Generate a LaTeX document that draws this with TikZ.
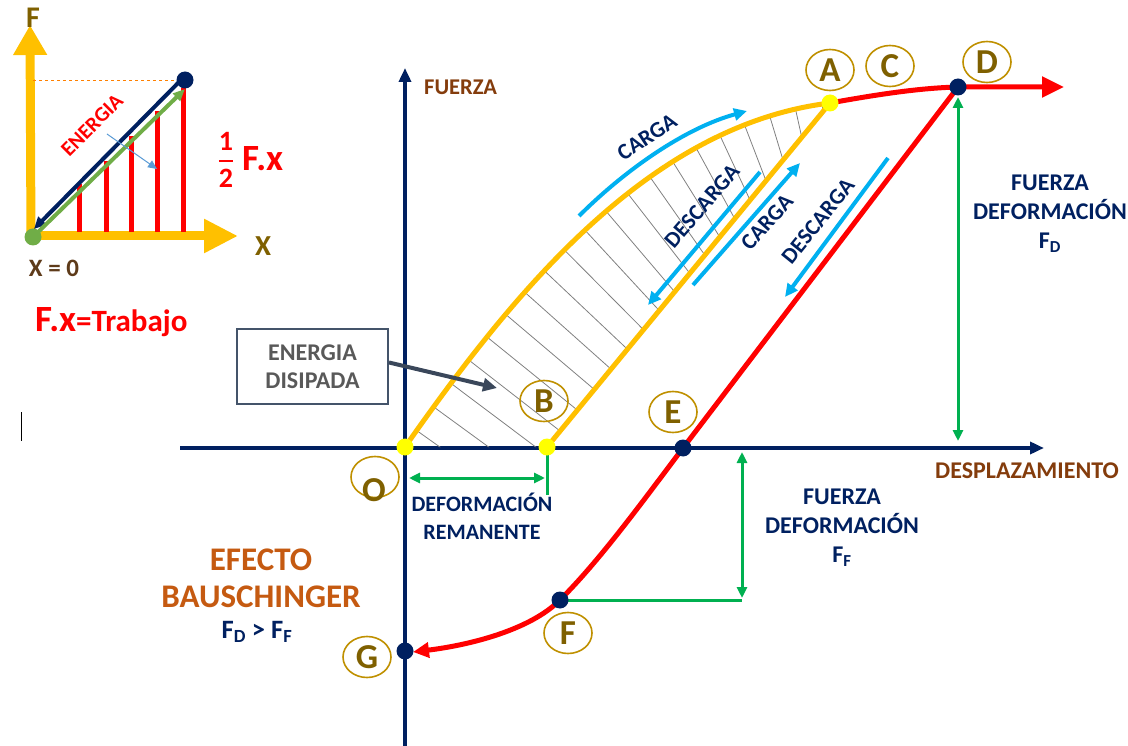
\documentclass[tikz,border=0pt]{standalone}
\usepackage{fontspec}
\usepackage{amsmath}
\setmainfont{Carlito}
\usetikzlibrary{arrows.meta,shapes.geometric,calc}
\definecolor{navy}{HTML}{002060}
\definecolor{gold}{HTML}{FFC000}
\definecolor{rojo}{HTML}{FF0000}
\definecolor{verde}{HTML}{00B050}
\definecolor{cian}{HTML}{00B0F0}
\definecolor{ring}{HTML}{BF9000}
\definecolor{letra}{HTML}{7F6000}
\definecolor{cafe}{HTML}{843C0C}
\definecolor{naranja}{HTML}{C55A11}
\definecolor{gris}{HTML}{595959}
\definecolor{pizarra}{HTML}{44546A}
\definecolor{verdeclaro}{HTML}{70AD47}
\definecolor{azulclaro}{HTML}{5B9BD5}
\definecolor{amarillo}{HTML}{FFFF00}
\definecolor{marron}{HTML}{5E3B1A}
\newcommand\fsz[2]{\fontsize{#1}{#2}\selectfont}
\begin{document}
\begin{tikzpicture}[x=1pt,y=-1pt,
  axisline/.style={navy, line width=3.5pt, -{Triangle[length=14pt,width=12pt]}},
  orangec/.style={gold, line width=5pt},
  redc/.style={rojo, line width=5pt},
  greenarr/.style={verde, line width=3pt, {Triangle[length=11pt,width=10pt]}-{Triangle[length=11pt,width=10pt]}},
  greenline/.style={verde, line width=3pt},
  bluearr/.style={cian, line width=4pt, -{Triangle[length=13pt,width=12pt]}},
  hatchline/.style={gray, line width=0.8pt},
  dot/.style={circle, inner sep=0pt, minimum size=17pt},
  lab/.style={ellipse, draw=ring, line width=1.6pt, minimum width=48pt, minimum height=41pt, inner sep=0pt, text=letra, font=\bfseries\fsz{35}{38}},
  navytxt/.style={text=navy, font=\bfseries\fsz{24}{29}, align=center, inner sep=0pt},
  rottxt/.style={text=navy, font=\bfseries\fsz{22.5}{25}, inner sep=0pt},
]
\useasboundingbox (0,0) rectangle (1128,746);

% ---------- coordinates
\coordinate (pO) at (405,447);
\coordinate (pB) at (547,447);
\coordinate (pA) at (830,103);
\coordinate (pD) at (958,87);
\coordinate (pE) at (683,448);
\coordinate (pF) at (560,600);
\coordinate (pG) at (405,651);
\coordinate (yTop) at (405,68);
\coordinate (yBot) at (405,746);
\coordinate (xL) at (180,448);
\coordinate (xR) at (1044,448);
\coordinate (redTip) at (1064,87);
\coordinate (gTip) at (413,652);

% ---------- axes
\draw[axisline] (xL) -- (xR);
\draw[axisline] (yBot) -- (yTop);

% ---------- hatching (normal to the loading curve)
\begin{scope}
\clip (pO) .. controls (515,290) and (650,125) .. (pA) -- (pB) -- cycle;
\foreach \t in {0.035,0.085,...,0.99} {
  \path (pO) .. controls (515,290) and (650,125) .. (pA)
     coordinate[pos=\t] (ha) coordinate[pos=\t+0.01] (hb);
  \draw[hatchline] ($(ha)!8pt!90:(hb)$) -- ($(ha)!320pt!-90:(hb)$);
}
\end{scope}

% ---------- curves
\draw[orangec] (pO) .. controls (515,290) and (650,125) .. (pA);
\draw[orangec] (pB) -- (pA);
\draw[redc, -{Triangle[length=22pt,width=20pt]}] (pA) .. controls (880,94) and (920,88) .. (pD) -- (redTip);
\draw[redc, -{Triangle[length=16pt,width=15pt]}] (pD) -- (pE) .. controls (640,505) and (600,560) .. (pF) .. controls (530,630) and (470,645) .. (gTip);

% ---------- green dimension arrows
\coordinate (g1t) at (958,97);
\coordinate (g1b) at (958,441);
\draw[greenarr] (g1b) -- (g1t);
\coordinate (g2t) at (742,452);
\coordinate (g2b) at (742,598);
\draw[greenarr] (g2t) -- (g2b);
\draw[greenline] (pF) -- (742,600);
\coordinate (r1) at (409,478);
\coordinate (r2) at (545,478);
\draw[greenarr] (r1) -- (r2);
\coordinate (rt) at (547,495);
\draw[greenline] (pB) -- (rt);

% ---------- blue arrows
\coordinate (c1s) at (579,216); \coordinate (c1e) at (747,111);
\draw[bluearr] (c1s) .. controls (625,170) and (685,128) .. (c1e);
\coordinate (d1s) at (760,172); \coordinate (d1e) at (648,305);
\draw[bluearr] (d1s) -- (d1e);
\coordinate (c2s) at (693,285); \coordinate (c2e) at (800,163);
\draw[bluearr] (c2s) -- (c2e);
\coordinate (d2s) at (888,158); \coordinate (d2e) at (785,297);
\draw[bluearr] (d2s) -- (d2e);

\node[rottxt, rotate=33] (tc1) at (647,137) {CARGA};
\node[rottxt, rotate=49] (td1) at (702,206) {DESCARGA};
\node[rottxt, rotate=48] (tc2) at (767,222) {CARGA};
\node[rottxt, rotate=51] (td2) at (818,221) {DESCARGA};

% ---------- dots
\node[dot, fill=amarillo] (O) at (pO) {};
\node[dot, fill=amarillo] (B) at (pB) {};
\node[dot, fill=amarillo] (A) at (pA) {};
\node[dot, fill=navy] (D) at (pD) {};
\node[dot, fill=navy] (E) at (pE) {};
\node[dot, fill=navy] (F) at (pF) {};
\node[dot, fill=navy] (G) at (pG) {};

% ---------- letter labels
\node[lab] (lA) at (830,70) {A};
\node[lab] (lC) at (890,66) {C};
\node[lab] (lD) at (987,62) {D};
\node[lab] (lB) at (544,401) {B};
\node[lab] (lE) at (673,412) {E};
\node[lab] (lO) at (375,477) {};
\node[text=letra, font=\bfseries\fsz{35}{38}, inner sep=0pt] (lOt) at (374,490) {O};
\node[lab] (lG) at (367,657) {G};
\node[lab] (lF) at (568,633) {F};

% ---------- axis labels
\node[text=cafe, font=\bfseries\fsz{22.5}{25}, anchor=west, inner sep=0pt] (fuerza) at (424,87) {FUERZA};
\node[text=cafe, font=\bfseries\fsz{24}{27}, inner sep=0pt] (despl) at (1027,471) {DESPLAZAMIENTO};

% ---------- other labels
\node[navytxt] (fd) at (1050,214) {FUERZA\\DEFORMACIÓN\\F\textsubscript{D}};
\node[navytxt] (ff) at (842,528) {FUERZA\\DEFORMACIÓN\\F\textsubscript{F}};
\node[navytxt, font=\bfseries\fsz{22}{28}] (rem) at (482,516) {DEFORMACIÓN\\REMANENTE};
\node[text=naranja, font=\bfseries\fsz{33}{37}, align=center, inner sep=0pt] (bau) at (261,578) {EFECTO\\BAUSCHINGER};
\node[text=navy, font=\bfseries\fsz{26.5}{30}, inner sep=0pt] (fdff) at (257,632) {F\textsubscript{D} > F\textsubscript{F}};

% ---------- energia disipada box
\node[draw=pizarra, line width=2pt, minimum width=151pt, minimum height=75pt, text=gris, font=\bfseries\fsz{24}{28}, align=center, inner sep=0pt] (box) at (312.5,366.5) {ENERGIA\\DISIPADA};
\coordinate (boxTip) at (497,388);
\draw[pizarra!85!black, line width=4pt, -{Triangle[length=14pt,width=13pt]}] (box.east) ++(0,-4) -- (boxTip);

% ---------- inset
\coordinate (iO) at (33,237);
\coordinate (iP) at (185,80);
\coordinate (iFtip) at (30,25);
\coordinate (iXtip) at (238,236);
\draw[gold, line width=9pt, -{Triangle[length=30pt,width=32pt]}] (31,241) -- (iFtip);
\draw[gold, line width=9pt, -{Triangle[length=34pt,width=32pt]}] (27,236) -- (iXtip);
\draw[orange, line width=0.8pt, dashed] (33,80) -- (iP);
\foreach \x/\t in {79/184,106/161,131/136,157/111,183/88} \draw[rojo, line width=5pt] (\x,232) -- (\x,\t);
\coordinate (iNavyS) at (182,79);
\coordinate (iNavyEnd) at (34,229);
\draw[navy, line width=4pt, -{Triangle[length=12pt,width=11pt]}] (iNavyS) -- (iNavyEnd);
\coordinate (iGreenEnd) at (185,89);
\draw[verdeclaro, line width=4pt, -{Triangle[length=12pt,width=10pt]}] (iO) -- (iGreenEnd);
\node[dot, fill=navy, minimum size=17pt] (ip) at (iP) {};
\node[dot, fill=verdeclaro, minimum size=17pt] (io) at (iO) {};
\node[text=rojo, font=\bfseries\fsz{21}{23}, rotate=45, inner sep=0pt] (energ) at (92,125) {ENERGIA};
\coordinate (bs) at (107,134); \coordinate (be) at (157,169);
\draw[azulclaro, line width=1pt, -{Triangle[length=9pt,width=8pt]}] (bs) -- (be);
\node[text=letra, font=\bfseries\fsz{30}{34}, inner sep=0pt] (iF) at (33,18) {F};
\node[text=letra, font=\bfseries\fsz{29}{32}, inner sep=0pt] (iX) at (263,246) {X};
\node[text=marron, font=\bfseries\fsz{25}{28}, inner sep=0pt] (x0) at (54,268) {X = 0};
\node[text=rojo, font=\bfseries\fsz{28}{30}, inner sep=0pt] (half) at (226,160) {$\genfrac{}{}{2.2pt}{0}{\text{1}}{\text{2}}$};
\node[text=rojo, font=\bfseries\fsz{37}{40}, anchor=west, inner sep=0pt] (fx) at (242,159) {F.x};
\node[text=rojo, anchor=base west, inner sep=0pt] (trab) at (35,331) {\bfseries\fsz{37}{40}F.x\fsz{31}{34}=Trabajo};
\coordinate (bar1) at (21,412); \coordinate (bar2) at (21,441);
\draw[black, line width=1pt] (bar1) -- (bar2);
\end{tikzpicture}
\end{document}
